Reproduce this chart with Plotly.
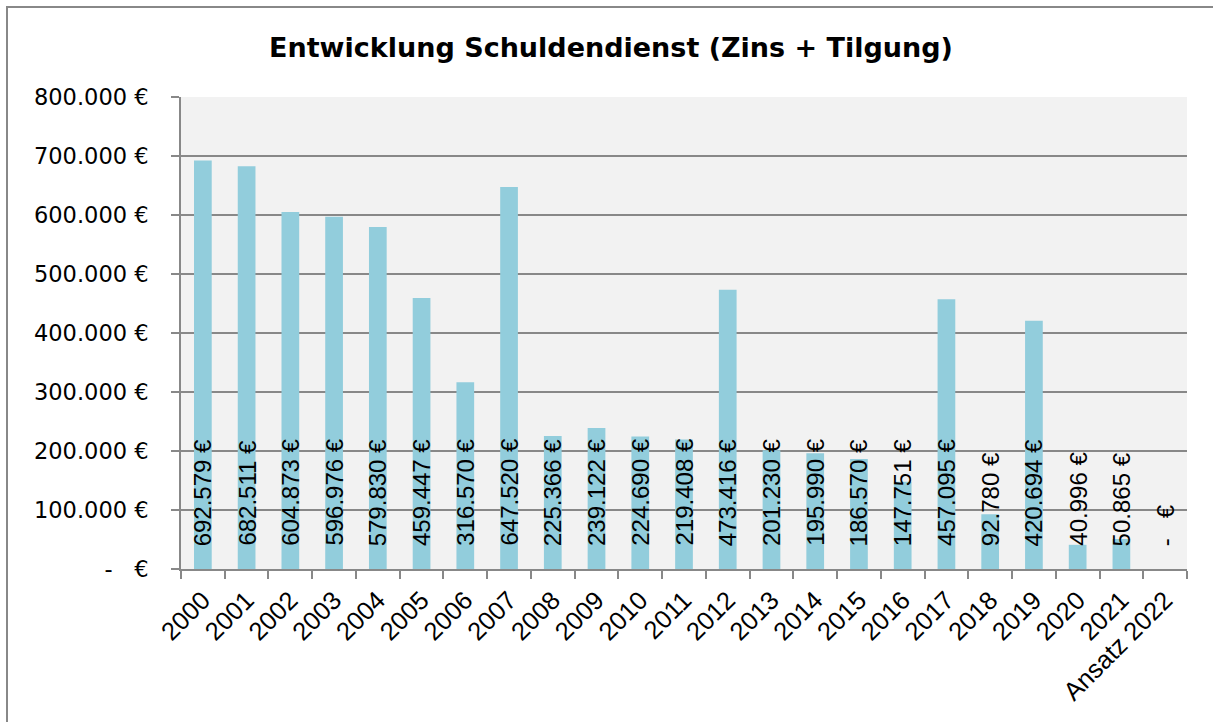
import plotly.graph_objects as go

categories = ["2000", "2001", "2002", "2003", "2004", "2005", "2006", "2007", "2008",
              "2009", "2010", "2011", "2012", "2013", "2014", "2015", "2016", "2017",
              "2018", "2019", "2020", "2021", "Ansatz 2022"]
values = [692579, 682511, 604873, 596976, 579830, 459447, 316570, 647520, 225366,
          239122, 224690, 219408, 473416, 201230, 195990, 186570, 147751, 457095,
          92780, 420694, 40996, 50865, 0]
y_ticks = [0, 100000, 200000, 300000, 400000, 500000, 600000, 700000, 800000]

title_text = "Entwicklung Schuldendienst (Zins + Tilgung)"


def eur(v):
    if v == 0:
        return "-\u00a0\u00a0\u00a0€"
    return f"{v:,.0f}".replace(",", ".") + "\u00a0€"


GRID = "#888888"
BAR = "#92CDDC"
W, H = 1213, 722
L, R, T, B = 181, 26, 97, 153
pw, ph = W - L - R, H - T - B

fig = go.Figure()
fig.add_trace(go.Bar(
    x=categories, y=values,
    marker=dict(color=BAR, line=dict(width=0)),
    hoverinfo="skip",
))

for i, v in enumerate(values):
    fig.add_annotation(
        x=i, y=0, xref="x", yref="y",
        text=eur(v), textangle=-90, showarrow=False,
        xanchor="center", yanchor="bottom", yshift=21,
        font=dict(family="Liberation Sans, Arial, sans-serif", size=24, color="#000000"),
    )

# outer chart border (left and top visible)
fig.add_shape(
    type="rect", xref="paper", yref="paper",
    x0=(7 - L) / pw, x1=1.2, y0=-0.6, y1=(H - B - 7) / ph,
    line=dict(color=GRID, width=2), fillcolor="rgba(0,0,0,0)", layer="above",
)

fig.update_layout(
    width=W, height=H,
    margin=dict(l=L, r=R, t=T, b=B, autoexpand=False),
    paper_bgcolor="#FFFFFF",
    plot_bgcolor="#F2F2F2",
    bargap=0.595,
    showlegend=False,
    title=dict(
        text=title_text,
        x=611 / W, xref="container", xanchor="center",
        y=1 - 48 / H, yref="container", yanchor="middle",
        font=dict(family="DejaVu Sans, sans-serif", size=27, color="#000000", weight="bold"),
    ),
    xaxis=dict(
        type="category",
        range=[-0.5, len(categories) - 0.5],
        tickson="boundaries",
        ticks="outside", ticklen=8, tickwidth=2, tickcolor=GRID,
        showline=True, linecolor=GRID, linewidth=2,
        showgrid=False,
        tickangle=-45,
        ticklabelstandoff=4,
        tickfont=dict(family="Liberation Sans, Arial, sans-serif", size=25.5, color="#000000"),
    ),
    yaxis=dict(
        range=[0, 800000],
        tickvals=y_ticks,
        ticktext=[eur(v) for v in y_ticks],
        showgrid=True, gridcolor=GRID, gridwidth=2,
        zeroline=False,
        showline=True, linecolor=GRID, linewidth=2,
        ticks="outside", ticklen=8, tickwidth=2, tickcolor=GRID,
        ticklabelstandoff=18,
        tickfont=dict(family="DejaVu Sans, sans-serif", size=22.5, color="#000000"),
    ),
)

fig.write_html("out.html", config={"displayModeBar": False},
               post_script="document.body.style.margin='0';document.body.style.overflow='hidden';")
